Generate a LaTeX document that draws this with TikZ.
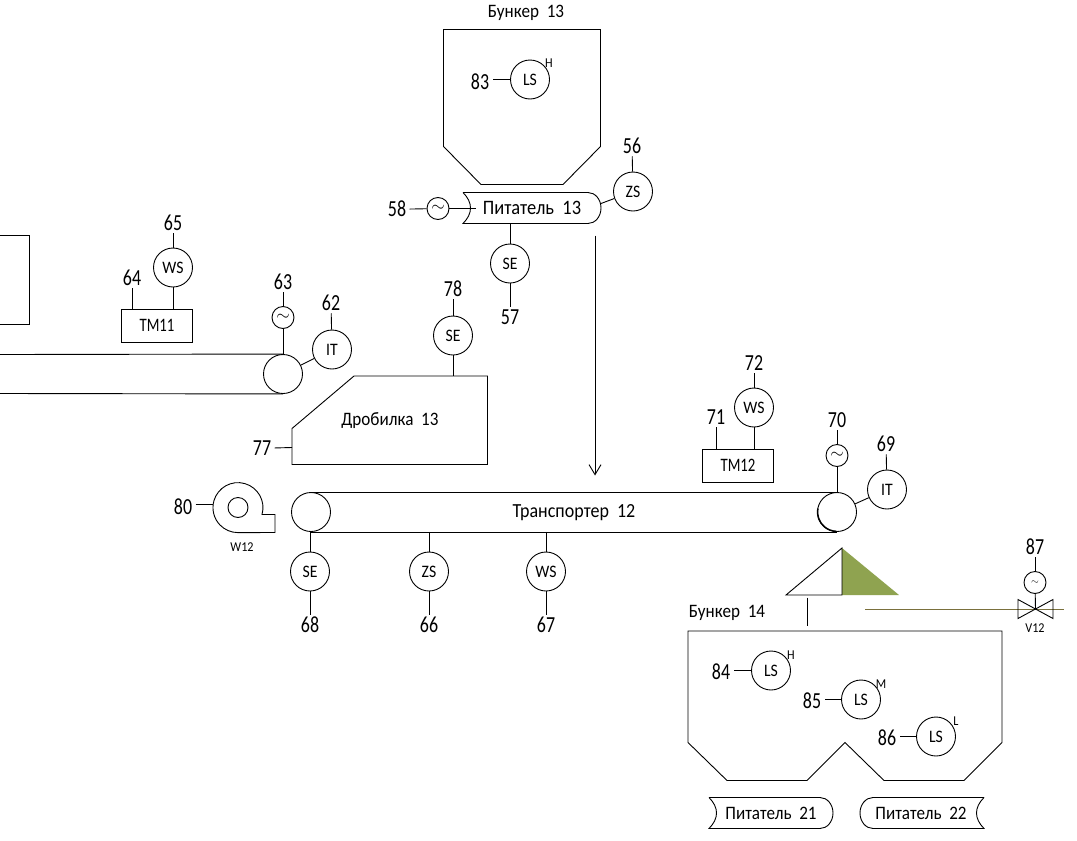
\documentclass[tikz,border=0pt]{standalone}
\usepackage{fontspec}
\setmainfont[FakeStretch=0.78,WordSpace=2]{Carlito}
\newfontfamily\namefont[FakeStretch=0.9,WordSpace=2]{Carlito}
\usetikzlibrary{arrows.meta}
\definecolor{trippergreen}{RGB}{143,163,80}
\definecolor{chutebrown}{RGB}{122,112,60}
\tikzset{
    plantline/.style={line width=0.9pt},
    instr/.style={draw, circle, inner sep=0pt, minimum size=39pt, font=\namefont\fontsize{17.5}{17.5}\selectfont},
    motor/.style={draw, circle, inner sep=0pt, minimum size=22pt, font=\fontsize{17}{17}\selectfont},
    drum/.style={draw, circle, inner sep=0pt, minimum size=39pt},
    tag/.style={yshift=-0.8pt, inner xsep=3pt, inner ysep=2.5pt, text height=14pt, text depth=0pt, font=\fontsize{23}{23}\selectfont},
    unitname/.style={inner sep=0pt, font=\namefont\fontsize{19}{19}\selectfont},
    widename/.style={inner sep=0pt, font=\namefont\fontsize{20}{20}\selectfont},
    tiny/.style={inner sep=0pt, font=\namefont\fontsize{13.5}{13.5}\selectfont},
    tmbox/.style={draw, inner sep=0pt, minimum width=71pt, minimum height=33pt, font=\fontsize{19}{19}\selectfont}
}
\begin{document}
\begin{tikzpicture}[x=1pt, y=-1pt, plantline]
    \useasboundingbox (0,-0.5) rectangle (1077,840.5);

    \draw (0,235) -- (29,235) -- (29,324) -- (0,324);

    \draw (443.5,29) -- (600.5,29) -- (600.5,146) -- (563,184) -- (481,184) -- (443.5,146) -- cycle;
    \node [unitname] (bunker13) at (526,12) {Бункер 13};
    \node [instr] (ls83) at (530,79) {LS};
    \node [tiny] (h83) at (549,63) {H};
    \node [tag] (tag83) at (480,81) {83};
    \draw (ls83.west) -- (ls83.west -| tag83.east);

    \draw (463,192) -- (588,192) arc [start angle=-90, end angle=90, x radius=13, y radius=15.5] -- (463,223) .. controls (473,213) and (473,202) .. (463,192);
    \node [widename, font=\namefont\fontsize{20.5}{20.5}\selectfont] (feeder13) at (532,207) {Питатель 13};
    \node [motor] (m58) at (438,208) {$\sim$};
    \node [tag] (tag58) at (397,208) {58};
    \coordinate (feeder13in) at (476,208);
    \draw (tag58) -- (m58);
    \draw (m58) -- (feeder13in);
    \node [instr] (zs56) at (633,191) {ZS};
    \node [tag] (tag56) at (632,145) {56};
    \coordinate (feeder13r) at (601,203);
    \draw (zs56) -- (tag56);
    \draw (feeder13r) -- (zs56);
    \node [instr] (se57) at (510,263) {SE};
    \node [tag] (tag57) at (510,316) {57};
    \coordinate (feeder13b) at (510,223);
    \draw (feeder13b) -- (se57);
    \draw (se57) -- (tag57);

    \coordinate (dropa) at (595,235);
    \coordinate (dropb) at (595,475);
    \draw [-{Straight Barb[length=10pt, width=12pt]}] (dropa) -- (dropb);

    \draw (354,375.5) -- (487.5,375.5) -- (487.5,464) -- (292,464) -- (292,428) -- cycle;
    \node [unitname] (crusher) at (390,420) {Дробилка 13};
    \node [instr] (se78) at (453,335) {SE};
    \node [tag] (tag78) at (453,288) {78};
    \coordinate (crushertop) at (453,375.5);
    \draw (tag78) -- (se78);
    \draw (se78) -- (crushertop);
    \node [tag] (tag77) at (262,447) {77};
    \coordinate (crusherl) at (292,447);
    \draw (tag77) -- (crusherl);

    \node [drum] (drum11) at (283,373.5) {};
    \coordinate (belt11a) at (0,354);
    \coordinate (belt11b) at (0,393);
    \draw (belt11a) -- (drum11.north);
    \draw (belt11b) -- (drum11.south);
    \node [motor] (m63) at (283,317) {$\sim$};
    \node [tag] (tag63) at (283,281) {63};
    \draw (tag63) -- (m63);
    \draw (m63) -- (drum11);
    \node [instr] (it62) at (332,349) {IT};
    \node [tag] (tag62) at (331,302) {62};
    \draw (tag62) -- (it62);
    \draw (drum11) -- (it62);
    \node [tmbox] (tm11) at (157,325) {TM11};
    \node [instr] (ws65) at (173,267) {WS};
    \node [tag] (tag65) at (173,222) {65};
    \node [tag] (tag64) at (132,277) {64};
    \draw (tag65) -- (ws65);
    \draw (ws65) -- (ws65 |- tm11.north);
    \draw (tm11.north -| tag64) -- (tag64);

    \node [drum] (drum12a) at (311,511.5) {};
    \node [drum] (drum12b) at (837,511.5) {};
    \draw (drum12a.north) -- (drum12b.north);
    \draw (drum12a.south) -- (drum12b.south);
    \draw [line width=1.5pt] (817.8,508) arc [start angle=-170, end angle=-268, radius=19.5];
    \node [widename] (belt12) at (574,512) {Транспортер 12};
    \node [motor] (m70) at (837,455) {$\sim$};
    \node [tag] (tag70) at (837,419) {70};
    \draw (tag70) -- (m70);
    \draw (m70) -- (drum12b);
    \node [instr] (it69) at (887,489) {IT};
    \node [tag] (tag69) at (886,443) {69};
    \draw (tag69) -- (it69);
    \draw (drum12b) -- (it69);
    \node [tmbox] (tm12) at (738,465) {TM12};
    \node [instr] (ws72) at (754,407) {WS};
    \node [tag] (tag72) at (754,362) {72};
    \node [tag] (tag71) at (716,416) {71};
    \draw (tag72) -- (ws72);
    \draw (ws72) -- (ws72 |- tm12.north);
    \draw (tm12.north -| tag71) -- (tag71);

    \node [instr] (se68) at (310,571) {SE};
    \node [instr] (zs66) at (429,571) {ZS};
    \node [instr] (ws67) at (546,571) {WS};
    \node [tag] (tag68) at (310,624) {68};
    \node [tag] (tag66) at (429,624) {66};
    \node [tag] (tag67) at (546,624) {67};
    \draw (se68 |- drum12a.south) -- (se68);
    \draw (zs66 |- drum12a.south) -- (zs66);
    \draw (ws67 |- drum12a.south) -- (ws67);
    \draw (se68) -- (tag68);
    \draw (zs66) -- (tag66);
    \draw (ws67) -- (tag67);

    \draw (262,514) arc [start angle=16, end angle=-270, radius=25] -- (275,532) -- (275,514) -- cycle;
    \node [draw, circle, inner sep=0pt, minimum size=20pt] (fan12) at (238,507) {};
    \node [tiny] (w12) at (242,547) {W12};
    \node [tag] (tag80) at (183,506) {80};
    \coordinate (fan12l) at (213,504);
    \draw (tag80.east |- fan12l) -- (fan12l);

    \fill [trippergreen] (842,547.5) -- (899,594.5) -- (842,594.5) -- cycle;
    \draw (842,547.5) -- (786,594.5) -- (842,594.5) -- cycle;
    \coordinate (trippera) at (807.5,597);
    \coordinate (tripperb) at (807.5,625);
    \draw (trippera) -- (tripperb);

    \coordinate (chutea) at (865,609);
    \coordinate (chuteb) at (1064,609);
    \draw [chutebrown] (chutea) -- (chuteb);
    \draw (1018,599) -- (1053,618) -- (1053,599) -- (1018,618) -- cycle;
    \coordinate (v12) at (1035.5,608.5);
    \node [tiny] (v12name) at (1035,628) {V12};
    \node [motor, font=\fontsize{10}{10}\selectfont] (m87) at (1035,582) {$\sim$};
    \node [tag] (tag87) at (1035,546) {87};
    \draw (tag87) -- (m87);
    \draw (m87) -- (v12);

    \draw (688,630.5) -- (1002,630.5) -- (1002,742) -- (964,780) -- (884,780) -- (845,742) -- (807,780) -- (727,780) -- (688,742) -- cycle;
    \node [unitname] (bunker14) at (727,612) {Бункер 14};
    \node [instr] (ls84) at (771,670) {LS};
    \node [tiny] (h84) at (791,655) {H};
    \node [tag] (tag84) at (721,671) {84};
    \draw (ls84.west) -- (ls84.west -| tag84.east);
    \node [instr] (ls85) at (861,699) {LS};
    \node [tiny] (m85) at (881,684) {M};
    \node [tag] (tag85) at (812,700) {85};
    \draw (ls85.west) -- (ls85.west -| tag85.east);
    \node [instr] (ls86) at (936,736) {LS};
    \node [tiny] (l86) at (956,721) {L};
    \node [tag] (tag86) at (887,737) {86};
    \draw (ls86.west) -- (ls86.west -| tag86.east);

    \draw (709,797) -- (820,797) arc [start angle=-90, end angle=90, x radius=13, y radius=15.5] -- (709,828) .. controls (719,818) and (719,807) .. (709,797);
    \node [unitname] (feeder21) at (771,813) {Питатель 21};
    \draw (984,797) -- (873,797) arc [start angle=-90, end angle=-270, x radius=13, y radius=15.5] -- (984,828) .. controls (974,818) and (974,807) .. (984,797);
    \node [unitname] (feeder22) at (921,813) {Питатель 22};
\end{tikzpicture}
\end{document}
